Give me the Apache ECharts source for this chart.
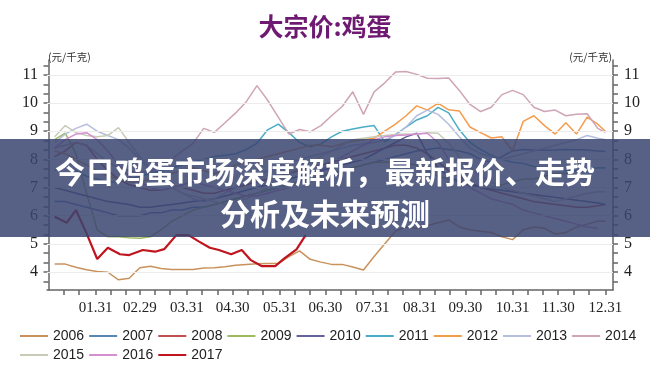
<!DOCTYPE html>
<html><head><meta charset="utf-8">
<script src="https://cdn.jsdelivr.net/npm/echarts@6/dist/echarts.min.js"></script>
<style>html,body{margin:0;padding:0;background:#fff}#c{width:650px;height:377px}</style>
</head><body><div id="c"></div>
<script>
// ---- data ----
const chartTitle = '大宗价:鸡蛋';
const unitLabel = '(元/千克)';
const bannerLine1 = '今日鸡蛋市场深度解析，最新报价、走势';
const bannerLine2 = '分析及未来预测';
const years = ['2006','2007','2008','2009','2010','2011','2012','2013','2014','2015','2016','2017'];
// day of year of the weekly observations
const weekDays = [4,11,18,25,32,39,46,53,60,67,74,81,88,95,102,109,116,123,130,137,144,151,158,165,172,179,186,193,200,207,214,221,228,235,242,249,256,263,270,277,284,291,298,305,312,319,326,333,340,347,354,361,366];
const days2017 = [4,12,18,25,32,39,47,53,62,70,76,84,92,99,106,112,120,127,133,140,149,155,163,169];
// x tick labels (month ends) and their day of year
const monthEndDays = [31,60,91,121,152,182,213,244,274,305,335,366];
const monthEndLabels = ['01.31','02.29','03.31','04.30','05.31','06.30','07.31','08.31','09.30','10.31','11.30','12.31'];
const yTicks = [4,5,6,7,8,9,10,11];

const v2006 = [4.28,4.28,4.17,4.08,4.02,3.99,3.72,3.78,4.15,4.2,4.12,4.09,4.09,4.09,4.14,4.15,4.19,4.24,4.27,4.29,4.3,4.3,4.55,4.75,4.45,4.35,4.27,4.27,4.18,4.07,4.55,5.0,5.45,5.6,5.55,5.65,5.75,5.85,5.6,5.5,5.45,5.4,5.25,5.15,5.5,5.6,5.55,5.35,5.4,5.6,5.7,5.8,5.8];
const v2007 = [6.5,6.5,6.4,6.3,6.2,6.1,6.0,6.0,6.0,6.1,6.1,6.2,6.2,6.3,6.3,6.4,6.5,6.6,6.7,6.8,6.9,7.0,7.1,7.2,7.3,7.4,7.5,7.6,7.7,7.8,7.9,8.0,8.1,8.2,8.3,8.35,8.4,8.35,8.3,8.2,8.0,7.9,8.1,8.3,8.35,8.33,8.32,8.33,8.35,8.34,8.33,8.3,8.28];
const v2008 = [8.1,8.3,8.6,8.5,8.0,7.6,7.3,7.1,7.0,6.9,6.9,7.0,7.0,6.9,6.8,6.8,6.9,7.0,7.1,7.2,7.3,7.4,7.5,7.6,7.7,7.8,7.9,8.0,8.1,8.2,8.3,8.4,8.5,8.5,8.4,8.2,7.9,7.6,7.4,7.2,7.0,6.9,6.8,6.7,6.6,6.5,6.45,6.4,6.35,6.3,6.3,6.35,6.4];
const v2009 = [8.7,8.93,8.2,6.8,5.5,5.25,5.25,5.22,5.2,5.25,5.5,5.8,6.0,6.2,6.3,6.4,6.5,6.6,6.7,6.8,6.9,7.0,7.1,7.2,7.3,7.4,7.5,7.6,7.7,7.8,7.9,7.9,7.9,7.85,7.8,7.6,7.4,7.3,7.2,7.1,7.0,7.0,7.1,7.2,7.3,7.3,7.4,7.5,7.5,7.6,7.6,7.7,7.7];
const v2010 = [7.0,6.9,6.8,6.7,6.6,6.5,6.45,6.4,6.3,6.3,6.35,6.4,6.45,6.5,6.55,6.6,6.7,6.8,6.9,7.0,7.1,7.2,7.3,7.4,7.5,7.6,7.7,7.8,7.9,8.0,8.2,8.4,8.6,8.8,8.93,8.2,7.7,7.4,7.2,7.1,7.0,6.95,6.9,6.85,6.8,6.75,6.7,6.65,6.6,6.55,6.5,6.45,6.4];
const v2011 = [7.6,7.8,7.6,7.4,7.3,7.2,7.2,7.3,7.4,7.5,7.6,7.7,7.8,7.9,8.0,8.1,8.15,8.2,8.35,8.57,9.05,9.25,8.95,8.6,8.45,8.55,8.8,9.0,9.08,9.15,9.2,8.62,8.88,9.15,9.4,9.55,9.85,9.65,9.05,8.6,8.35,8.15,8.0,7.9,7.85,7.75,7.7,7.65,7.6,7.6,7.65,7.7,7.7];
const v2012 = [8.3,8.2,8.0,7.8,7.6,7.4,7.3,7.2,7.2,7.3,7.4,7.5,7.6,7.7,7.6,7.5,7.6,7.8,7.9,8.0,8.1,8.2,8.3,8.4,8.5,8.5,8.45,8.55,8.65,8.7,8.75,9.0,9.25,9.55,9.9,9.75,10.0,9.76,9.72,9.15,8.95,8.76,8.8,8.3,9.35,9.55,9.2,8.9,9.3,8.9,9.5,9.25,9.0];
const v2013 = [8.6,8.9,9.1,9.25,9.0,8.85,8.7,8.4,8.0,7.6,7.3,7.0,6.8,6.6,6.5,6.6,6.8,7.0,7.2,7.4,7.6,7.8,7.9,8.0,8.1,8.2,8.3,8.4,8.5,8.55,8.6,8.7,8.85,9.15,9.55,9.75,9.6,9.25,8.8,8.4,8.2,8.1,8.0,8.1,8.2,8.3,8.4,8.5,8.6,8.7,8.85,8.75,8.7];
const v2014 = [8.4,8.5,8.6,8.5,8.2,7.9,7.7,7.6,7.5,7.6,7.8,8.0,8.3,8.57,9.1,8.96,9.3,9.65,10.05,10.62,10.1,9.5,8.9,9.06,8.98,9.2,9.55,9.88,10.4,9.6,10.4,10.72,11.1,11.12,11.02,10.88,10.87,10.89,10.45,9.95,9.7,9.85,10.3,10.45,10.3,9.85,9.7,9.75,9.55,9.6,9.62,9.1,8.96];
const v2015 = [8.8,9.2,8.95,8.85,8.8,8.85,9.13,8.6,8.1,7.7,7.3,7.0,6.8,6.7,6.6,6.5,6.4,6.5,6.6,6.8,7.0,7.3,7.5,7.7,7.9,8.1,8.3,8.5,8.7,8.75,8.8,8.85,8.88,8.9,8.88,8.95,8.93,8.57,8.1,7.7,7.4,7.2,7.0,6.9,6.8,6.7,6.6,6.5,6.6,6.7,6.8,6.85,6.85];
const v2016 = [8.4,8.7,8.9,8.95,8.7,8.3,7.8,7.4,7.2,7.0,6.9,7.0,7.1,7.2,7.1,7.0,6.9,6.8,6.7,6.7,6.8,6.9,7.0,7.2,7.4,7.6,7.9,8.1,8.3,8.5,8.7,8.8,8.85,8.87,8.9,8.93,8.6,8.0,7.3,7.0,6.8,6.6,6.5,6.4,6.2,6.1,6.0,5.9,5.8,5.7,5.6,5.55];
const v2017 = [5.96,5.75,6.2,5.37,4.46,4.86,4.63,4.6,4.78,4.72,4.81,5.31,5.31,5.08,4.86,4.78,4.63,4.78,4.42,4.21,4.21,4.48,4.8,5.31];

const colors = ['#c9925c','#5a86b2','#c0504d','#9dbb5c','#62639a','#4bacc6','#f59c4c','#b5bedc','#cfa4b6','#c8cbb6','#d48fd2','#c0141e'];
const allValues = [v2006,v2007,v2008,v2009,v2010,v2011,v2012,v2013,v2014,v2015,v2016,v2017];

// ---- build ----
const series = years.map((y, i) => {
  const xs = (y === '2017') ? days2017 : weekDays;
  const vals = allValues[i];
  return {
    name: y, type: 'line', symbol: 'none', showSymbol: false,
    data: vals.map((v, j) => [xs[j], v]),
    lineStyle: { width: y === '2017' ? 2.2 : 1.5, color: colors[i] },
    itemStyle: { color: colors[i] },
    z: y === '2017' ? 5 : 2
  };
});

// tick positions: month ends plus the 10th and 20th of each month
const xTickDays = [];
[0].concat(monthEndDays.slice(0, 11)).forEach((s, i) => { xTickDays.push(s + 10, s + 20, monthEndDays[i]); });
const yTickAll = [];
for (let t = 3; t <= 11; t++) { [t, t + 1/3, t + 2/3].forEach(v => { if (v > 3.36 && v < 11.53) yTickAll.push(v); }); }

const axisColor = '#666';
const yMin = 3.36, yMax = 11.53;
const chart = echarts.init(document.getElementById('c'), null, { renderer: 'canvas' });
chart.setOption({
  animation: false,
  backgroundColor: '#fff',
  color: colors,
  title: { text: chartTitle, left: 'center', top: 9,
    textStyle: { color: '#6e1a72', fontSize: 25, fontWeight: 'bold', fontFamily: 'Noto Sans CJK SC' } },
  grid: { left: 47, right: 37, top: 60, bottom: 87, containLabel: false },
  legend: {
    data: years, left: 20, top: 329, width: 630, padding: 0, itemWidth: 28, itemHeight: 16, itemGap: 5,
    icon: 'path://M0,0H28V2H0Z',
    textStyle: { fontSize: 14, color: '#222', fontFamily: 'Liberation Sans' }
  },
  xAxis: [
    { type: 'value', min: -1, max: 371, position: 'bottom',
      axisLine: { show: true, lineStyle: { color: axisColor, width: 1.5 } },
      axisTick: { show: true, customValues: xTickDays, length: 5, lineStyle: { color: axisColor, width: 1.5 } },
      axisLabel: { customValues: monthEndDays, margin: 11, color: '#222', fontSize: 15, fontFamily: 'Liberation Serif',
        formatter: v => monthEndLabels[monthEndDays.indexOf(Math.round(v))] || '' },
      splitLine: { show: false } }
  ],
  yAxis: [
    { type: 'value', min: yMin, max: yMax, position: 'left',
      axisLine: { show: true, lineStyle: { color: axisColor, width: 1.5 } },
      axisTick: { show: true, customValues: yTickAll, length: 5, lineStyle: { color: axisColor, width: 1.5 } },
      axisLabel: { customValues: yTicks, margin: 9, color: '#222', fontSize: 16, fontFamily: 'Liberation Serif' },
      splitLine: { show: false } },
    { type: 'value', min: yMin, max: yMax, position: 'right',
      axisLine: { show: true, lineStyle: { color: axisColor, width: 1.5 } },
      axisTick: { show: true, customValues: yTickAll, length: 5, lineStyle: { color: axisColor, width: 1.5 } },
      axisLabel: { customValues: yTicks, margin: 11, color: '#222', fontSize: 16, fontFamily: 'Liberation Serif' },
      splitLine: { show: false } }
  ],
  series: series.concat([{
    type: 'line', name: 'grid', data: [], silent: true, yAxisIndex: 0,
    markLine: { silent: true, symbol: 'none', label: { show: false },
      lineStyle: { color: '#ececec', width: 1, type: 'solid' },
      data: yTicks.map(v => ({ yAxis: v })) }
  }]),
  graphic: [
    { type: 'text', left: 48, top: 52, z: 50, style: { text: unitLabel, fill: '#333', font: '10.5px "Noto Sans CJK SC"' } },
    { type: 'text', right: 38, top: 52, z: 50, style: { text: unitLabel, fill: '#333', font: '10.5px "Noto Sans CJK SC"' } },
    { type: 'rect', left: 0, top: 139, z: 100, shape: { width: 650, height: 98 },
      style: { fill: 'rgba(58,68,112,0.85)' } },
    { type: 'text', x: 325, y: 172, z: 101,
      style: { text: bannerLine1, fill: '#fff', align: 'center', verticalAlign: 'middle',
        font: 'bold 30px "Noto Sans CJK SC"', shadowColor: 'rgba(0,0,0,0.35)', shadowBlur: 3 } },
    { type: 'text', x: 325, y: 214, z: 101,
      style: { text: bannerLine2, fill: '#fff', align: 'center', verticalAlign: 'middle',
        font: 'bold 30px "Noto Sans CJK SC"', shadowColor: 'rgba(0,0,0,0.35)', shadowBlur: 3 } }
  ]
});
</script></body></html>
